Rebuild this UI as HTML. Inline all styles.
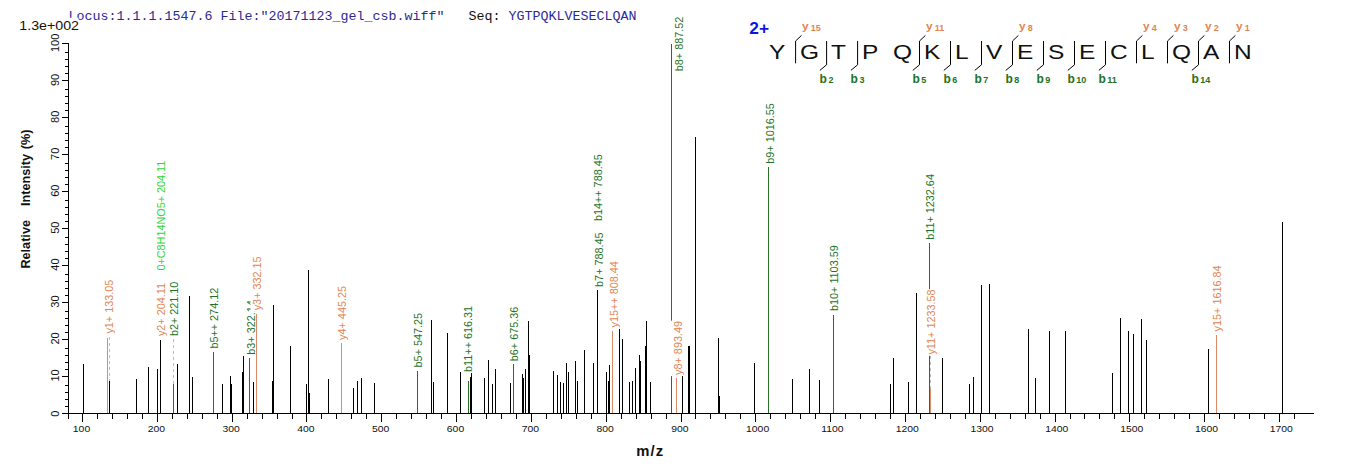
<!DOCTYPE html>
<html><head><meta charset="utf-8"><title>spectrum</title>
<style>
html,body{margin:0;padding:0;background:#fff;}
body{width:1362px;height:473px;overflow:hidden;font-family:"Liberation Sans",sans-serif;}
svg{display:block;}
text{font-family:"Liberation Sans",sans-serif;}
.m{font-family:"Liberation Mono",monospace;}
</style></head><body>
<svg width="1362" height="473" viewBox="0 0 1362 473">
<rect width="1362" height="473" fill="#fff"/>

<text class="m" x="68.5" y="20" font-size="13.33" fill="#2a2a96" xml:space="preserve">Locus:1.1.1.1547.6 File:"20171123_gel_csb.wiff"</text>
<text class="m" x="468.5" y="20" font-size="13.33" fill="#111" xml:space="preserve">Seq:</text>
<text class="m" x="508.5" y="20" font-size="13.33" fill="#2a2a96" xml:space="preserve">YGTPQKLVESECLQAN</text>
<rect x="18" y="17.8" width="60.5" height="14" fill="#fff"/>
<text transform="translate(19.3,29.9) scale(1.165,1)" font-size="12.2" fill="#111">1.3e+002</text>
<g shape-rendering="crispEdges" fill="#000">
<rect x="68" y="43" width="1" height="376"/>
<rect x="62" y="413" width="1252" height="1"/>
<rect x="62" y="413" width="6" height="1"/>
<rect x="65" y="406" width="3" height="1"/>
<rect x="65" y="399" width="3" height="1"/>
<rect x="65" y="392" width="3" height="1"/>
<rect x="65" y="385" width="3" height="1"/>
<rect x="62" y="376" width="6" height="1"/>
<rect x="65" y="369" width="3" height="1"/>
<rect x="65" y="362" width="3" height="1"/>
<rect x="65" y="355" width="3" height="1"/>
<rect x="65" y="348" width="3" height="1"/>
<rect x="62" y="339" width="6" height="1"/>
<rect x="65" y="332" width="3" height="1"/>
<rect x="65" y="325" width="3" height="1"/>
<rect x="65" y="318" width="3" height="1"/>
<rect x="65" y="311" width="3" height="1"/>
<rect x="62" y="302" width="6" height="1"/>
<rect x="65" y="295" width="3" height="1"/>
<rect x="65" y="288" width="3" height="1"/>
<rect x="65" y="281" width="3" height="1"/>
<rect x="65" y="274" width="3" height="1"/>
<rect x="62" y="265" width="6" height="1"/>
<rect x="65" y="258" width="3" height="1"/>
<rect x="65" y="251" width="3" height="1"/>
<rect x="65" y="244" width="3" height="1"/>
<rect x="65" y="237" width="3" height="1"/>
<rect x="62" y="228" width="6" height="1"/>
<rect x="65" y="221" width="3" height="1"/>
<rect x="65" y="214" width="3" height="1"/>
<rect x="65" y="207" width="3" height="1"/>
<rect x="65" y="200" width="3" height="1"/>
<rect x="62" y="191" width="6" height="1"/>
<rect x="65" y="184" width="3" height="1"/>
<rect x="65" y="177" width="3" height="1"/>
<rect x="65" y="170" width="3" height="1"/>
<rect x="65" y="163" width="3" height="1"/>
<rect x="62" y="154" width="6" height="1"/>
<rect x="65" y="147" width="3" height="1"/>
<rect x="65" y="140" width="3" height="1"/>
<rect x="65" y="133" width="3" height="1"/>
<rect x="65" y="126" width="3" height="1"/>
<rect x="62" y="117" width="6" height="1"/>
<rect x="65" y="110" width="3" height="1"/>
<rect x="65" y="103" width="3" height="1"/>
<rect x="65" y="96" width="3" height="1"/>
<rect x="65" y="89" width="3" height="1"/>
<rect x="62" y="80" width="6" height="1"/>
<rect x="65" y="73" width="3" height="1"/>
<rect x="65" y="66" width="3" height="1"/>
<rect x="65" y="59" width="3" height="1"/>
<rect x="65" y="52" width="3" height="1"/>
<rect x="62" y="43" width="6" height="1"/>
<rect x="82" y="413" width="1" height="9"/>
<rect x="97" y="413" width="1" height="6"/>
<rect x="112" y="413" width="1" height="6"/>
<rect x="127" y="413" width="1" height="6"/>
<rect x="142" y="413" width="1" height="6"/>
<rect x="157" y="413" width="1" height="9"/>
<rect x="172" y="413" width="1" height="6"/>
<rect x="187" y="413" width="1" height="6"/>
<rect x="202" y="413" width="1" height="6"/>
<rect x="217" y="413" width="1" height="6"/>
<rect x="232" y="413" width="1" height="9"/>
<rect x="247" y="413" width="1" height="6"/>
<rect x="262" y="413" width="1" height="6"/>
<rect x="277" y="413" width="1" height="6"/>
<rect x="292" y="413" width="1" height="6"/>
<rect x="306" y="413" width="1" height="9"/>
<rect x="321" y="413" width="1" height="6"/>
<rect x="336" y="413" width="1" height="6"/>
<rect x="351" y="413" width="1" height="6"/>
<rect x="366" y="413" width="1" height="6"/>
<rect x="381" y="413" width="1" height="9"/>
<rect x="396" y="413" width="1" height="6"/>
<rect x="411" y="413" width="1" height="6"/>
<rect x="426" y="413" width="1" height="6"/>
<rect x="441" y="413" width="1" height="6"/>
<rect x="456" y="413" width="1" height="9"/>
<rect x="471" y="413" width="1" height="6"/>
<rect x="486" y="413" width="1" height="6"/>
<rect x="501" y="413" width="1" height="6"/>
<rect x="516" y="413" width="1" height="6"/>
<rect x="531" y="413" width="1" height="9"/>
<rect x="546" y="413" width="1" height="6"/>
<rect x="561" y="413" width="1" height="6"/>
<rect x="576" y="413" width="1" height="6"/>
<rect x="591" y="413" width="1" height="6"/>
<rect x="606" y="413" width="1" height="9"/>
<rect x="621" y="413" width="1" height="6"/>
<rect x="636" y="413" width="1" height="6"/>
<rect x="651" y="413" width="1" height="6"/>
<rect x="666" y="413" width="1" height="6"/>
<rect x="681" y="413" width="1" height="9"/>
<rect x="695" y="413" width="1" height="6"/>
<rect x="710" y="413" width="1" height="6"/>
<rect x="725" y="413" width="1" height="6"/>
<rect x="740" y="413" width="1" height="6"/>
<rect x="755" y="413" width="1" height="9"/>
<rect x="770" y="413" width="1" height="6"/>
<rect x="785" y="413" width="1" height="6"/>
<rect x="800" y="413" width="1" height="6"/>
<rect x="815" y="413" width="1" height="6"/>
<rect x="830" y="413" width="1" height="9"/>
<rect x="845" y="413" width="1" height="6"/>
<rect x="860" y="413" width="1" height="6"/>
<rect x="875" y="413" width="1" height="6"/>
<rect x="890" y="413" width="1" height="6"/>
<rect x="905" y="413" width="1" height="9"/>
<rect x="920" y="413" width="1" height="6"/>
<rect x="935" y="413" width="1" height="6"/>
<rect x="950" y="413" width="1" height="6"/>
<rect x="965" y="413" width="1" height="6"/>
<rect x="980" y="413" width="1" height="9"/>
<rect x="995" y="413" width="1" height="6"/>
<rect x="1010" y="413" width="1" height="6"/>
<rect x="1025" y="413" width="1" height="6"/>
<rect x="1040" y="413" width="1" height="6"/>
<rect x="1055" y="413" width="1" height="9"/>
<rect x="1070" y="413" width="1" height="6"/>
<rect x="1084" y="413" width="1" height="6"/>
<rect x="1099" y="413" width="1" height="6"/>
<rect x="1114" y="413" width="1" height="6"/>
<rect x="1129" y="413" width="1" height="9"/>
<rect x="1144" y="413" width="1" height="6"/>
<rect x="1159" y="413" width="1" height="6"/>
<rect x="1174" y="413" width="1" height="6"/>
<rect x="1189" y="413" width="1" height="6"/>
<rect x="1204" y="413" width="1" height="9"/>
<rect x="1219" y="413" width="1" height="6"/>
<rect x="1234" y="413" width="1" height="6"/>
<rect x="1249" y="413" width="1" height="6"/>
<rect x="1264" y="413" width="1" height="6"/>
<rect x="1279" y="413" width="1" height="9"/>
<rect x="1294" y="413" width="1" height="6"/>
</g>
<text transform="translate(58.6,413.8) rotate(-90) scale(1.07,1)" text-anchor="middle" font-size="10.3" fill="#111">0</text>
<text transform="translate(58.6,375.5) rotate(-90) scale(1.07,1)" text-anchor="middle" font-size="10.3" fill="#111">10</text>
<text transform="translate(58.6,338.5) rotate(-90) scale(1.07,1)" text-anchor="middle" font-size="10.3" fill="#111">20</text>
<text transform="translate(58.6,301.6) rotate(-90) scale(1.07,1)" text-anchor="middle" font-size="10.3" fill="#111">30</text>
<text transform="translate(58.6,264.6) rotate(-90) scale(1.07,1)" text-anchor="middle" font-size="10.3" fill="#111">40</text>
<text transform="translate(58.6,227.7) rotate(-90) scale(1.07,1)" text-anchor="middle" font-size="10.3" fill="#111">50</text>
<text transform="translate(58.6,190.7) rotate(-90) scale(1.07,1)" text-anchor="middle" font-size="10.3" fill="#111">60</text>
<text transform="translate(58.6,153.8) rotate(-90) scale(1.07,1)" text-anchor="middle" font-size="10.3" fill="#111">70</text>
<text transform="translate(58.6,116.8) rotate(-90) scale(1.07,1)" text-anchor="middle" font-size="10.3" fill="#111">80</text>
<text transform="translate(58.6,79.9) rotate(-90) scale(1.07,1)" text-anchor="middle" font-size="10.3" fill="#111">90</text>
<text transform="translate(58.6,42.9) rotate(-90) scale(1.07,1)" text-anchor="middle" font-size="10.3" fill="#111">100</text>
<text transform="translate(81.5,432.4) scale(1.12,1)" text-anchor="middle" font-size="9.3" fill="#111">100</text>
<text transform="translate(156.3,432.4) scale(1.12,1)" text-anchor="middle" font-size="9.3" fill="#111">200</text>
<text transform="translate(231.1,432.4) scale(1.12,1)" text-anchor="middle" font-size="9.3" fill="#111">300</text>
<text transform="translate(305.9,432.4) scale(1.12,1)" text-anchor="middle" font-size="9.3" fill="#111">400</text>
<text transform="translate(380.7,432.4) scale(1.12,1)" text-anchor="middle" font-size="9.3" fill="#111">500</text>
<text transform="translate(455.5,432.4) scale(1.12,1)" text-anchor="middle" font-size="9.3" fill="#111">600</text>
<text transform="translate(530.3,432.4) scale(1.12,1)" text-anchor="middle" font-size="9.3" fill="#111">700</text>
<text transform="translate(605.1,432.4) scale(1.12,1)" text-anchor="middle" font-size="9.3" fill="#111">800</text>
<text transform="translate(679.9,432.4) scale(1.12,1)" text-anchor="middle" font-size="9.3" fill="#111">900</text>
<text transform="translate(757.6,432.4) scale(1.12,1)" text-anchor="middle" font-size="9.3" fill="#111">1000</text>
<text transform="translate(832.4,432.4) scale(1.12,1)" text-anchor="middle" font-size="9.3" fill="#111">1100</text>
<text transform="translate(907.2,432.4) scale(1.12,1)" text-anchor="middle" font-size="9.3" fill="#111">1200</text>
<text transform="translate(982.0,432.4) scale(1.12,1)" text-anchor="middle" font-size="9.3" fill="#111">1300</text>
<text transform="translate(1056.8,432.4) scale(1.12,1)" text-anchor="middle" font-size="9.3" fill="#111">1400</text>
<text transform="translate(1131.7,432.4) scale(1.12,1)" text-anchor="middle" font-size="9.3" fill="#111">1500</text>
<text transform="translate(1206.5,432.4) scale(1.12,1)" text-anchor="middle" font-size="9.3" fill="#111">1600</text>
<text transform="translate(1281.3,432.4) scale(1.12,1)" text-anchor="middle" font-size="9.3" fill="#111">1700</text>
<text transform="translate(29.8,199.1) rotate(-90) scale(1.055,1)" text-anchor="middle" word-spacing="1.1" font-size="12" font-weight="bold" fill="#111" xml:space="preserve">Relative   Intensity (%)</text>
<text transform="translate(650.3,456) scale(1.06,1)" text-anchor="middle" font-size="14" letter-spacing="1.1" font-weight="bold" fill="#111" xml:space="preserve">m/z</text>
<g shape-rendering="crispEdges">
<rect x="83" y="364" width="1" height="49" fill="#000"/>
<rect x="109" y="381" width="1" height="32" fill="#000"/>
<rect x="136" y="379" width="1" height="34" fill="#000"/>
<rect x="148" y="367" width="1" height="46" fill="#000"/>
<rect x="157" y="369" width="1" height="44" fill="#000"/>
<rect x="160" y="340" width="1" height="73" fill="#000"/>
<rect x="177" y="364" width="1" height="49" fill="#000"/>
<rect x="189" y="296" width="1" height="117" fill="#000"/>
<rect x="192" y="377" width="1" height="36" fill="#000"/>
<rect x="222" y="384" width="1" height="29" fill="#000"/>
<rect x="230" y="376" width="1" height="37" fill="#000"/>
<rect x="231" y="384" width="1" height="29" fill="#000"/>
<rect x="242" y="372" width="1" height="41" fill="#000"/>
<rect x="243" y="356" width="1" height="57" fill="#000"/>
<rect x="253" y="382" width="1" height="31" fill="#000"/>
<rect x="272" y="381" width="1" height="32" fill="#000"/>
<rect x="273" y="305" width="1" height="108" fill="#000"/>
<rect x="290" y="346" width="1" height="67" fill="#000"/>
<rect x="306" y="384" width="1" height="29" fill="#000"/>
<rect x="308" y="270" width="1" height="143" fill="#000"/>
<rect x="309" y="393" width="1" height="20" fill="#000"/>
<rect x="328" y="379" width="1" height="34" fill="#000"/>
<rect x="353" y="388" width="1" height="25" fill="#000"/>
<rect x="357" y="381" width="1" height="32" fill="#000"/>
<rect x="361" y="378" width="1" height="35" fill="#000"/>
<rect x="374" y="383" width="1" height="30" fill="#000"/>
<rect x="431" y="320" width="1" height="93" fill="#000"/>
<rect x="433" y="382" width="1" height="31" fill="#000"/>
<rect x="447" y="333" width="1" height="80" fill="#000"/>
<rect x="460" y="372" width="1" height="41" fill="#000"/>
<rect x="470" y="377" width="1" height="36" fill="#000"/>
<rect x="471" y="373" width="1" height="40" fill="#000"/>
<rect x="484" y="378" width="1" height="35" fill="#000"/>
<rect x="488" y="360" width="1" height="53" fill="#000"/>
<rect x="492" y="384" width="1" height="29" fill="#000"/>
<rect x="495" y="369" width="1" height="44" fill="#000"/>
<rect x="510" y="383" width="1" height="30" fill="#000"/>
<rect x="522" y="374" width="1" height="39" fill="#000"/>
<rect x="523" y="378" width="1" height="35" fill="#000"/>
<rect x="525" y="369" width="1" height="44" fill="#000"/>
<rect x="528" y="321" width="1" height="92" fill="#000"/>
<rect x="529" y="355" width="1" height="58" fill="#000"/>
<rect x="553" y="371" width="1" height="42" fill="#000"/>
<rect x="557" y="375" width="1" height="38" fill="#000"/>
<rect x="560" y="382" width="1" height="31" fill="#000"/>
<rect x="563" y="383" width="1" height="30" fill="#000"/>
<rect x="566" y="363" width="1" height="50" fill="#000"/>
<rect x="568" y="372" width="1" height="41" fill="#000"/>
<rect x="575" y="361" width="1" height="52" fill="#000"/>
<rect x="577" y="381" width="1" height="32" fill="#000"/>
<rect x="584" y="350" width="1" height="63" fill="#000"/>
<rect x="593" y="363" width="1" height="50" fill="#000"/>
<rect x="597" y="290" width="1" height="123" fill="#000"/>
<rect x="606" y="372" width="1" height="41" fill="#000"/>
<rect x="608" y="381" width="1" height="32" fill="#000"/>
<rect x="609" y="365" width="1" height="48" fill="#000"/>
<rect x="619" y="329" width="1" height="84" fill="#000"/>
<rect x="622" y="339" width="1" height="74" fill="#000"/>
<rect x="629" y="382" width="1" height="31" fill="#000"/>
<rect x="632" y="381" width="1" height="32" fill="#000"/>
<rect x="635" y="368" width="1" height="45" fill="#000"/>
<rect x="639" y="355" width="1" height="58" fill="#000"/>
<rect x="640" y="361" width="1" height="52" fill="#000"/>
<rect x="645" y="346" width="1" height="67" fill="#000"/>
<rect x="646" y="321" width="1" height="92" fill="#000"/>
<rect x="650" y="382" width="1" height="31" fill="#000"/>
<rect x="682" y="376" width="1" height="37" fill="#000"/>
<rect x="688" y="346" width="1" height="67" fill="#000"/>
<rect x="689" y="346" width="1" height="67" fill="#000"/>
<rect x="695" y="137" width="1" height="276" fill="#000"/>
<rect x="718" y="338" width="1" height="75" fill="#000"/>
<rect x="719" y="396" width="1" height="17" fill="#000"/>
<rect x="754" y="363" width="1" height="50" fill="#000"/>
<rect x="792" y="379" width="1" height="34" fill="#000"/>
<rect x="809" y="369" width="1" height="44" fill="#000"/>
<rect x="819" y="380" width="1" height="33" fill="#000"/>
<rect x="890" y="384" width="1" height="29" fill="#000"/>
<rect x="893" y="358" width="1" height="55" fill="#000"/>
<rect x="908" y="382" width="1" height="31" fill="#000"/>
<rect x="916" y="293" width="1" height="120" fill="#000"/>
<rect x="942" y="358" width="1" height="55" fill="#000"/>
<rect x="969" y="384" width="1" height="29" fill="#000"/>
<rect x="973" y="377" width="1" height="36" fill="#000"/>
<rect x="981" y="285" width="1" height="128" fill="#000"/>
<rect x="989" y="284" width="1" height="129" fill="#000"/>
<rect x="1028" y="329" width="1" height="84" fill="#000"/>
<rect x="1035" y="378" width="1" height="35" fill="#000"/>
<rect x="1049" y="331" width="1" height="82" fill="#000"/>
<rect x="1065" y="331" width="1" height="82" fill="#000"/>
<rect x="1112" y="373" width="1" height="40" fill="#000"/>
<rect x="1120" y="318" width="1" height="95" fill="#000"/>
<rect x="1128" y="331" width="1" height="82" fill="#000"/>
<rect x="1133" y="334" width="1" height="79" fill="#000"/>
<rect x="1141" y="319" width="1" height="94" fill="#000"/>
<rect x="1146" y="340" width="1" height="73" fill="#000"/>
<rect x="1208" y="349" width="1" height="64" fill="#000"/>
<rect x="1282" y="222" width="1" height="191" fill="#000"/>
</g>
<rect shape-rendering="crispEdges" x="107" y="338" width="1" height="75" fill="#dc8a68"/>
<g transform="translate(113,333.6) rotate(-90)"><rect x="-1.2" y="-10.8" width="55.4" height="13.3" fill="#fff"/><text transform="scale(0.985,1)" font-size="11" fill="#e2844f" xml:space="preserve">y1+ 133.05</text></g>
<line shape-rendering="crispEdges" stroke="#bdbdbd" stroke-width="1" stroke-dasharray="3,3" x1="109.5" y1="337" x2="109.5" y2="381"/>
<g transform="translate(164.5,270.6) rotate(-90)"><rect x="-1.2" y="-10.8" width="111.5" height="13.3" fill="#fff"/><text transform="scale(0.985,1)" font-size="11" fill="#2fd52f" xml:space="preserve">0+C8H14NO5+ 204.11</text></g>
<g transform="translate(164.5,336.1) rotate(-90)"><rect x="-1.2" y="-10.8" width="54.6" height="13.3" fill="#fff"/><text transform="scale(0.985,1)" font-size="11" fill="#e2844f" xml:space="preserve">y2+ 204.11</text></g>
<line shape-rendering="crispEdges" stroke="#bdbdbd" stroke-width="1" stroke-dasharray="3,3" x1="173.5" y1="339" x2="173.5" y2="384"/>
<rect shape-rendering="crispEdges" x="173" y="384" width="1" height="29" fill="#2a702a"/>
<g transform="translate(178,336.1) rotate(-90)"><rect x="-1.2" y="-10.8" width="56.0" height="13.3" fill="#fff"/><text transform="scale(0.985,1)" font-size="11" fill="#237223" xml:space="preserve">b2+ 221.10</text></g>
<rect shape-rendering="crispEdges" x="213" y="352" width="1" height="61" fill="#2a702a"/>
<g transform="translate(217.7,348.6) rotate(-90)"><rect x="-1.2" y="-10.8" width="62.3" height="13.3" fill="#fff"/><text transform="scale(0.985,1)" font-size="11" fill="#237223" xml:space="preserve">b5++ 274.12</text></g>
<rect shape-rendering="crispEdges" x="249" y="358" width="1" height="55" fill="#2a702a"/>
<g transform="translate(254.5,354.7) rotate(-90)"><rect x="-1.2" y="-10.8" width="56.0" height="13.3" fill="#fff"/><text transform="scale(0.985,1)" font-size="11" fill="#237223" xml:space="preserve">b3+ 322.14</text></g>
<rect shape-rendering="crispEdges" x="256" y="314" width="1" height="99" fill="#dc8a68"/>
<g transform="translate(261.3,310.3) rotate(-90)"><rect x="-1.2" y="-10.8" width="55.4" height="13.3" fill="#fff"/><text transform="scale(0.985,1)" font-size="11" fill="#e2844f" xml:space="preserve">y3+ 332.15</text></g>
<rect shape-rendering="crispEdges" x="341" y="343" width="1" height="70" fill="#dc8a68"/>
<g transform="translate(345.8,339.9) rotate(-90)"><rect x="-1.2" y="-10.8" width="55.4" height="13.3" fill="#fff"/><text transform="scale(0.985,1)" font-size="11" fill="#e2844f" xml:space="preserve">y4+ 445.25</text></g>
<rect shape-rendering="crispEdges" x="417" y="371" width="1" height="42" fill="#2a702a"/>
<g transform="translate(421.6,367.4) rotate(-90)"><rect x="-1.2" y="-10.8" width="56.0" height="13.3" fill="#fff"/><text transform="scale(0.985,1)" font-size="11" fill="#237223" xml:space="preserve">b5+ 547.25</text></g>
<rect shape-rendering="crispEdges" x="468" y="381" width="1" height="32" fill="#2a702a"/>
<g transform="translate(472.4,371.9) rotate(-90)"><rect x="-1.2" y="-10.8" width="67.5" height="13.3" fill="#fff"/><text transform="scale(0.985,1)" font-size="11" fill="#237223" xml:space="preserve">b11++ 616.31</text></g>
<rect shape-rendering="crispEdges" x="513" y="364" width="1" height="49" fill="#2a702a"/>
<g transform="translate(518.4,361.2) rotate(-90)"><rect x="-1.2" y="-10.8" width="56.0" height="13.3" fill="#fff"/><text transform="scale(0.985,1)" font-size="11" fill="#237223" xml:space="preserve">b6+ 675.36</text></g>
<g transform="translate(601.8,221.1) rotate(-90)"><rect x="-1.2" y="-10.8" width="68.3" height="13.3" fill="#fff"/><text transform="scale(0.985,1)" font-size="11" fill="#237223" xml:space="preserve">b14++ 788.45</text></g>
<g transform="translate(602.5,286.9) rotate(-90)"><rect x="-1.2" y="-10.8" width="56.0" height="13.3" fill="#fff"/><text transform="scale(0.985,1)" font-size="11" fill="#237223" xml:space="preserve">b7+ 788.45</text></g>
<rect shape-rendering="crispEdges" x="612" y="331" width="1" height="82" fill="#dc8a68"/>
<g transform="translate(617.5,327.4) rotate(-90)"><rect x="-1.2" y="-10.8" width="67.7" height="13.3" fill="#fff"/><text transform="scale(0.985,1)" font-size="11" fill="#e2844f" xml:space="preserve">y15++ 808.44</text></g>
<rect shape-rendering="crispEdges" x="671" y="44" width="1" height="369" fill="#2a702a"/>
<rect shape-rendering="crispEdges" x="676" y="378" width="1" height="35" fill="#dc8a68"/>
<g transform="translate(681.5,374.9) rotate(-90)"><rect x="-1.2" y="-10.8" width="55.4" height="13.3" fill="#fff"/><text transform="scale(0.985,1)" font-size="11" fill="#e2844f" xml:space="preserve">y8+ 893.49</text></g>
<g transform="translate(683.3,71.2) rotate(-90)"><rect x="-1.2" y="-10.8" width="56.0" height="13.3" fill="#fff"/><text transform="scale(0.985,1)" font-size="11" fill="#237223" xml:space="preserve">b8+ 887.52</text></g>
<rect shape-rendering="crispEdges" x="768" y="167" width="1" height="246" fill="#2a702a"/>
<g transform="translate(773.7,163.7) rotate(-90)"><rect x="-1.2" y="-10.8" width="62.0" height="13.3" fill="#fff"/><text transform="scale(0.985,1)" font-size="11" fill="#237223" xml:space="preserve">b9+ 1016.55</text></g>
<rect shape-rendering="crispEdges" x="833" y="315" width="1" height="98" fill="#2a702a"/>
<g transform="translate(838.3,311) rotate(-90)"><rect x="-1.2" y="-10.8" width="67.3" height="13.3" fill="#fff"/><text transform="scale(0.985,1)" font-size="11" fill="#237223" xml:space="preserve">b10+ 1103.59</text></g>
<rect shape-rendering="crispEdges" x="929" y="243" width="1" height="170" fill="#2a702a"/>
<g transform="translate(933.7,239.8) rotate(-90)"><rect x="-1.2" y="-10.8" width="67.3" height="13.3" fill="#fff"/><text transform="scale(0.985,1)" font-size="11" fill="#237223" xml:space="preserve">b11+ 1232.64</text></g>
<rect shape-rendering="crispEdges" x="930" y="389" width="1" height="24" fill="#dc8a68"/>
<line shape-rendering="crispEdges" stroke="#bdbdbd" stroke-width="1" stroke-dasharray="3,3" x1="930.5" y1="356" x2="930.5" y2="389"/>
<g transform="translate(934.8,354.6) rotate(-90)"><rect x="-1.2" y="-10.8" width="66.6" height="13.3" fill="#fff"/><text transform="scale(0.985,1)" font-size="11" fill="#e2844f" xml:space="preserve">y11+ 1233.58</text></g>
<rect shape-rendering="crispEdges" x="1216" y="335" width="1" height="78" fill="#dc8a68"/>
<g transform="translate(1221.3,331.4) rotate(-90)"><rect x="-1.2" y="-10.8" width="67.4" height="13.3" fill="#fff"/><text transform="scale(0.985,1)" font-size="11" fill="#e2844f" xml:space="preserve">y15+ 1616.84</text></g>
<text transform="translate(769,59.4) scale(1.2,1)" font-size="20.4" fill="#111">Y</text>
<text transform="translate(800,59.4) scale(1.2,1)" font-size="20.4" fill="#111">G</text>
<text transform="translate(831,59.4) scale(1.2,1)" font-size="20.4" fill="#111">T</text>
<text transform="translate(862,59.4) scale(1.2,1)" font-size="20.4" fill="#111">P</text>
<text transform="translate(893,59.4) scale(1.2,1)" font-size="20.4" fill="#111">Q</text>
<text transform="translate(924,59.4) scale(1.2,1)" font-size="20.4" fill="#111">K</text>
<text transform="translate(955,59.4) scale(1.2,1)" font-size="20.4" fill="#111">L</text>
<text transform="translate(986,59.4) scale(1.2,1)" font-size="20.4" fill="#111">V</text>
<text transform="translate(1017,59.4) scale(1.2,1)" font-size="20.4" fill="#111">E</text>
<text transform="translate(1048,59.4) scale(1.2,1)" font-size="20.4" fill="#111">S</text>
<text transform="translate(1079,59.4) scale(1.2,1)" font-size="20.4" fill="#111">E</text>
<text transform="translate(1110,59.4) scale(1.2,1)" font-size="20.4" fill="#111">C</text>
<text transform="translate(1141,59.4) scale(1.2,1)" font-size="20.4" fill="#111">L</text>
<text transform="translate(1172,59.4) scale(1.2,1)" font-size="20.4" fill="#111">Q</text>
<text transform="translate(1203,59.4) scale(1.2,1)" font-size="20.4" fill="#111">A</text>
<text transform="translate(1234,59.4) scale(1.2,1)" font-size="20.4" fill="#111">N</text>
<g stroke="#000" stroke-width="1" fill="none">
<path d="M801.5 35.4 L795.6 41 L795.6 63.3"/>
<path d="M826.6 41 L826.6 64.8 L819.9 70.4"/>
<path d="M857.6 41 L857.6 64.8 L850.9 70.4"/>
<path d="M925.4 35.4 L919.5 41 L919.5 64.8 L912.8 70.4"/>
<path d="M950.5 41 L950.5 64.8 L943.8 70.4"/>
<path d="M981.5 41 L981.5 64.8 L974.8 70.4"/>
<path d="M1018.4 35.4 L1012.5 41 L1012.5 64.8 L1005.8 70.4"/>
<path d="M1043.5 41 L1043.5 64.8 L1036.8 70.4"/>
<path d="M1074.5 41 L1074.5 64.8 L1067.8 70.4"/>
<path d="M1105.5 41 L1105.5 64.8 L1098.8 70.4"/>
<path d="M1142.4 35.4 L1136.5 41 L1136.5 63.3"/>
<path d="M1173.4 35.4 L1167.5 41 L1167.5 63.3"/>
<path d="M1204.4 35.4 L1198.5 41 L1198.5 64.8 L1191.8 70.4"/>
<path d="M1235.4 35.4 L1229.5 41 L1229.5 63.3"/>
</g>
<text x="802.1" y="30.2" font-size="11.8" font-weight="bold" fill="#e2844f">y</text>
<text x="810.8" y="30.7" font-size="9" font-weight="bold" fill="#e2844f">15</text>
<text x="926.0" y="30.2" font-size="11.8" font-weight="bold" fill="#e2844f">y</text>
<text x="934.8" y="30.7" font-size="9" font-weight="bold" fill="#e2844f">11</text>
<text x="1019.0" y="30.2" font-size="11.8" font-weight="bold" fill="#e2844f">y</text>
<text x="1027.7" y="30.7" font-size="9" font-weight="bold" fill="#e2844f">8</text>
<text x="1143.0" y="30.2" font-size="11.8" font-weight="bold" fill="#e2844f">y</text>
<text x="1151.7" y="30.7" font-size="9" font-weight="bold" fill="#e2844f">4</text>
<text x="1174.0" y="30.2" font-size="11.8" font-weight="bold" fill="#e2844f">y</text>
<text x="1182.7" y="30.7" font-size="9" font-weight="bold" fill="#e2844f">3</text>
<text x="1205.0" y="30.2" font-size="11.8" font-weight="bold" fill="#e2844f">y</text>
<text x="1213.7" y="30.7" font-size="9" font-weight="bold" fill="#e2844f">2</text>
<text x="1236.0" y="30.2" font-size="11.8" font-weight="bold" fill="#e2844f">y</text>
<text x="1244.7" y="30.7" font-size="9" font-weight="bold" fill="#e2844f">1</text>
<text x="819.6" y="82.7" font-size="12" font-weight="bold" fill="#237223">b</text>
<text x="828.4" y="82.6" font-size="9" font-weight="bold" fill="#237223">2</text>
<text x="850.6" y="82.7" font-size="12" font-weight="bold" fill="#237223">b</text>
<text x="859.4" y="82.6" font-size="9" font-weight="bold" fill="#237223">3</text>
<text x="912.5" y="82.7" font-size="12" font-weight="bold" fill="#237223">b</text>
<text x="921.3" y="82.6" font-size="9" font-weight="bold" fill="#237223">5</text>
<text x="943.5" y="82.7" font-size="12" font-weight="bold" fill="#237223">b</text>
<text x="952.3" y="82.6" font-size="9" font-weight="bold" fill="#237223">6</text>
<text x="974.5" y="82.7" font-size="12" font-weight="bold" fill="#237223">b</text>
<text x="983.3" y="82.6" font-size="9" font-weight="bold" fill="#237223">7</text>
<text x="1005.5" y="82.7" font-size="12" font-weight="bold" fill="#237223">b</text>
<text x="1014.3" y="82.6" font-size="9" font-weight="bold" fill="#237223">8</text>
<text x="1036.5" y="82.7" font-size="12" font-weight="bold" fill="#237223">b</text>
<text x="1045.3" y="82.6" font-size="9" font-weight="bold" fill="#237223">9</text>
<text x="1067.5" y="82.7" font-size="12" font-weight="bold" fill="#237223">b</text>
<text x="1076.3" y="82.6" font-size="9" font-weight="bold" fill="#237223">10</text>
<text x="1098.5" y="82.7" font-size="12" font-weight="bold" fill="#237223">b</text>
<text x="1107.3" y="82.6" font-size="9" font-weight="bold" fill="#237223">11</text>
<text x="1191.5" y="82.7" font-size="12" font-weight="bold" fill="#237223">b</text>
<text x="1200.3" y="82.6" font-size="9" font-weight="bold" fill="#237223">14</text>
<text transform="translate(749.3,33.9) scale(1.1,1)" font-size="15.8" font-weight="bold" fill="#1212e6">2+</text>
</svg></body></html>
